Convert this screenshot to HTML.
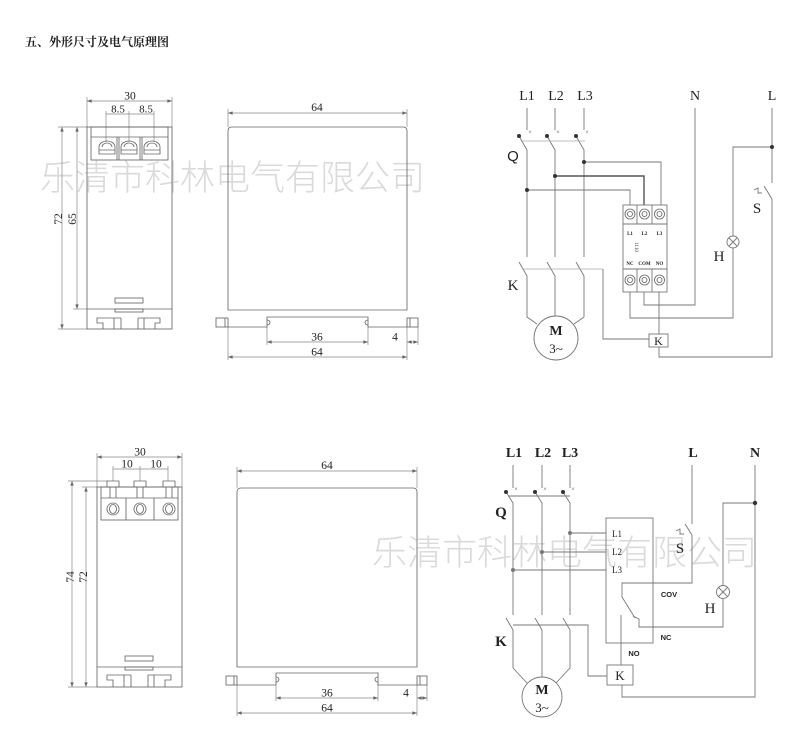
<!DOCTYPE html>
<html><head><meta charset="utf-8">
<style>
html,body{margin:0;padding:0;background:#fff;}
svg{display:block;}
.b{fill:none;stroke:#666;stroke-width:0.85;}
.d{fill:none;stroke:#888;stroke-width:0.7;}
.w{fill:none;stroke:#777;stroke-width:0.9;}
.t{font-family:"Liberation Serif","Noto Serif CJK SC",serif;fill:#222;}
.s{font-family:"Liberation Sans",sans-serif;fill:#222;}
</style></head><body>
<svg width="800" height="750" viewBox="0 0 800 750" xmlns="http://www.w3.org/2000/svg">
<defs>
<marker id="a" viewBox="0 0 8 6" refX="8" refY="3" markerWidth="7" markerHeight="5" orient="auto-start-reverse"><path d="M0,0 L8,3 L0,6 z" fill="#666"/></marker>
</defs>
<rect width="800" height="750" fill="#fff"/>

<!-- watermarks -->
<text x="40" y="190" font-size="35" fill="#dadada" font-family="'Noto Sans CJK SC',sans-serif" font-weight="300">乐清市科林电气有限公司</text>
<text x="372" y="565" font-size="35" fill="#dadada" font-family="'Noto Sans CJK SC',sans-serif" font-weight="300">乐清市科林电气有限公司</text>

<!-- title -->
<text x="25" y="46" class="t" font-size="12" font-weight="bold">五、外形尺寸及电气原理图</text>

<!-- ============ TOP LEFT VIEW ============ -->
<g class="d">
<line x1="87" y1="101" x2="172" y2="101" marker-start="url(#a)" marker-end="url(#a)"/>
<line x1="87" y1="97" x2="87" y2="127"/><line x1="172" y1="97" x2="172" y2="127"/>
<line x1="106" y1="114" x2="154" y2="114"/>
<line x1="106" y1="111" x2="106" y2="142"/><line x1="129" y1="111" x2="129" y2="142"/><line x1="154" y1="111" x2="154" y2="142"/>
<line x1="62" y1="127" x2="62" y2="329" marker-start="url(#a)" marker-end="url(#a)"/>
<line x1="77" y1="127" x2="77" y2="309" marker-start="url(#a)" marker-end="url(#a)"/>
<line x1="58" y1="127" x2="87" y2="127"/><line x1="58" y1="329" x2="87" y2="329"/><line x1="73" y1="309" x2="87" y2="309"/>
</g>
<text x="130" y="99.5" class="t" font-size="11.5" text-anchor="middle">30</text>
<text x="118" y="112.5" class="t" font-size="11" text-anchor="middle">8.5</text>
<text x="146" y="112.5" class="t" font-size="11" text-anchor="middle">8.5</text>
<text transform="translate(62,219) rotate(-90)" class="t" font-size="11.5" text-anchor="middle">72</text>
<text transform="translate(76,219) rotate(-90)" class="t" font-size="11.5" text-anchor="middle">65</text>
<g class="b">
<rect x="87" y="127" width="85" height="202"/>
<rect x="91" y="127" width="77" height="33"/>
<line x1="91" y1="137" x2="168" y2="137"/>
</g>
<g class="b" stroke-width="0.6" stroke="#777">
<line x1="117" y1="137" x2="117" y2="160"/><line x1="119" y1="137" x2="119" y2="160"/>
<line x1="140" y1="137" x2="140" y2="160"/><line x1="142" y1="137" x2="142" y2="160"/>
<path d="M99,154 V147 A8,6 0 0 1 115,147 V154 Z M99,150 H115 M102,147 A5,4 0 0 1 112,147"/>
<path d="M121,154 V147 A8,6 0 0 1 137,147 V154 Z M121,150 H137 M124,147 A5,4 0 0 1 134,147"/>
<path d="M144,154 V147 A8,6 0 0 1 160,147 V154 Z M144,150 H160 M147,147 A5,4 0 0 1 157,147"/>
</g>
<g class="b">
<line x1="87" y1="309" x2="172" y2="309"/>
<rect x="115" y="298" width="28" height="5"/>
<rect x="115" y="309" width="28" height="3"/>
<path d="M121,318 H97 V323 H103 V329 M114,318 V329 M121,318 V329 M138,318 V329 M144,318 V329 M138,318 H160 V323 H155 V329"/>
</g>

<!-- ============ TOP MIDDLE VIEW ============ -->
<g class="d">
<line x1="228" y1="113" x2="407" y2="113" marker-start="url(#a)" marker-end="url(#a)"/>
<line x1="228" y1="109" x2="228" y2="127"/><line x1="407" y1="109" x2="407" y2="127"/>
<line x1="267" y1="342" x2="368" y2="342" marker-start="url(#a)" marker-end="url(#a)"/>
<line x1="267" y1="327" x2="267" y2="345"/><line x1="368" y1="327" x2="368" y2="345"/>
<line x1="407" y1="342" x2="418" y2="342" marker-start="url(#a)" marker-end="url(#a)"/>
<line x1="418" y1="327" x2="418" y2="345"/>
<line x1="228" y1="357" x2="407" y2="357" marker-start="url(#a)" marker-end="url(#a)"/>
<line x1="228" y1="327" x2="228" y2="360"/><line x1="407" y1="327" x2="407" y2="360"/>
</g>
<text x="317" y="111" class="t" font-size="11.5" text-anchor="middle">64</text>
<text x="317" y="340.5" class="t" font-size="11.5" text-anchor="middle">36</text>
<text x="395" y="340.5" class="t" font-size="11.5" text-anchor="middle">4</text>
<text x="317" y="355.5" class="t" font-size="11.5" text-anchor="middle">64</text>
<g class="b">
<path d="M228,310 V131 Q228,127 232,127 H403 Q407,127 407,131 V310 Z"/>
<rect x="216" y="318" width="12" height="9"/><line x1="225" y1="318" x2="225" y2="327"/>
<rect x="407" y="318" width="11" height="9"/><line x1="410" y1="318" x2="410" y2="327"/>
<path d="M228,327 H267 V317 H368 V327 H407"/>
<path d="M267,320 A3,2.5 0 0 1 267,325 M368,320 A3,2.5 0 0 0 368,325"/>
</g>

<!-- ============ TOP RIGHT SCHEMATIC ============ -->
<g class="t" font-size="14" text-anchor="middle">
<text x="527" y="100">L1</text><text x="556" y="100">L2</text><text x="585" y="100">L3</text>
<text x="695" y="100">N</text><text x="772" y="100">L</text>
</g>
<g class="w">
<path d="M527,108 V130 M519,136 L527,150 V257 M519,262 L527,276 V317 L537,324"/>
<path d="M555,108 V130 M547,136 L555,150 V257 M547,262 L555,276 V316"/>
<path d="M584,108 V130 M576,136 L584,150 V257 M576,262 L584,276 V317 L574,324"/>
<circle cx="556" cy="338" r="22"/>
<path d="M584,162 H661 V205"/>
<path d="M555,176 H644 V205" stroke-width="1.4" stroke="#555"/>
<path d="M527,190 H630 V205"/>
<rect x="623" y="205" width="44" height="87"/>
<path d="M637,205 V224 M652,205 V224 M623,224 H667 M637,269 V292 M652,269 V292 M623,269 H667"/>
<path d="M630,292 V318 H733 V248"/>
<path d="M644,292 V305 H695 V108"/>
<path d="M659,292 V334 M659,347 V357 H772 V199"/>
<path d="M772,108 V183 M772,199 L764,186"/>
<path d="M772,147 H733 V236"/>
<path d="M754,190 L758,188 V193 H762"/>
<circle cx="733" cy="242" r="6"/>
<path d="M729,238 L737,246 M737,238 L729,246"/>
<rect x="649" y="334" width="19" height="13"/>
<path d="M603,269 V339 H649"/>
</g>
<g stroke="#aaa" stroke-width="0.7" fill="none">
<line x1="522" y1="141" x2="585" y2="141"/>
<line x1="522" y1="269" x2="603" y2="269"/>
</g>
<g fill="#333">
<circle cx="519" cy="136" r="2"/><circle cx="547" cy="136" r="2"/><circle cx="576" cy="136" r="2"/>
<circle cx="584" cy="162" r="2"/><circle cx="555" cy="176" r="2"/><circle cx="527" cy="190" r="2"/>
<circle cx="772" cy="147" r="2"/>
</g>
<g font-size="6" fill="#888" font-family="Liberation Sans,sans-serif" text-anchor="middle">
<text x="530" y="134">×</text><text x="558" y="134">×</text><text x="587" y="134">×</text>
</g>
<g class="b" stroke-width="0.7">
<circle cx="630" cy="214" r="5"/><circle cx="644.5" cy="214" r="5"/><circle cx="659.5" cy="214" r="5"/>
<circle cx="630" cy="280" r="5"/><circle cx="644.5" cy="280" r="5"/><circle cx="659.5" cy="280" r="5"/>
<circle cx="630" cy="214" r="2.5"/><circle cx="644.5" cy="214" r="2.5"/><circle cx="659.5" cy="214" r="2.5"/>
<circle cx="630" cy="280" r="2.5"/><circle cx="644.5" cy="280" r="2.5"/><circle cx="659.5" cy="280" r="2.5"/>
</g>
<g class="t" font-size="5" font-weight="bold" text-anchor="middle">
<text x="630" y="235">L1</text><text x="644.5" y="235">L2</text><text x="659.5" y="235">L3</text>
<text x="630" y="265">NC</text><text x="644.5" y="265">COM</text><text x="659.5" y="265">NO</text>
<text transform="translate(635,247) rotate(90)" font-weight="normal">1110</text>
</g>
<g class="t" font-size="15" text-anchor="middle">
<text x="513" y="161" class="s">Q</text>
<text x="513" y="290">K</text>
<text x="757" y="213">S</text>
<text x="719" y="261">H</text>
<text x="556" y="335" font-size="14" font-weight="bold">M</text>
<text x="556" y="353" font-size="13">3~</text>
<text x="658.5" y="345" font-size="12">K</text>
</g>

<!-- ============ BOTTOM LEFT VIEW ============ -->
<g class="d">
<line x1="97" y1="457" x2="182" y2="457" marker-start="url(#a)" marker-end="url(#a)"/>
<line x1="97" y1="453" x2="97" y2="487"/><line x1="182" y1="453" x2="182" y2="487"/>
<line x1="113" y1="469" x2="168" y2="469"/>
<line x1="113" y1="466" x2="113" y2="481"/><line x1="140" y1="466" x2="140" y2="481"/><line x1="168" y1="466" x2="168" y2="481"/>
<line x1="72" y1="481" x2="72" y2="687" marker-start="url(#a)" marker-end="url(#a)"/>
<line x1="86" y1="487" x2="86" y2="687" marker-start="url(#a)" marker-end="url(#a)"/>
<line x1="68" y1="481" x2="108" y2="481"/><line x1="82" y1="487" x2="97" y2="487"/><line x1="68" y1="687" x2="97" y2="687"/>
</g>
<text x="140" y="455.5" class="t" font-size="11.5" text-anchor="middle">30</text>
<text x="127" y="467.5" class="t" font-size="11.5" text-anchor="middle">10</text>
<text x="156" y="467.5" class="t" font-size="11.5" text-anchor="middle">10</text>
<text transform="translate(74,577) rotate(-90)" class="t" font-size="11.5" text-anchor="middle">74</text>
<text transform="translate(87,577) rotate(-90)" class="t" font-size="11.5" text-anchor="middle">72</text>
<g class="b">
<rect x="97" y="487" width="85" height="200"/>
<rect x="101" y="487" width="77" height="33"/>
<line x1="101" y1="498" x2="178" y2="498"/>
<path d="M107,487 V481 H119 V487 M110,487 V498 M116,487 V498"/>
<path d="M134,487 V481 H146 V487 M137,487 V498 M143,487 V498"/>
<path d="M163,487 V481 H175 V487 M166,487 V498 M172,487 V498"/>
<line x1="126" y1="498" x2="126" y2="520"/><line x1="154" y1="498" x2="154" y2="520"/>
<circle cx="113" cy="509" r="6"/><ellipse cx="113" cy="509" rx="3.5" ry="4.5"/>
<circle cx="140" cy="509" r="6"/><ellipse cx="140" cy="509" rx="3.5" ry="4.5"/>
<circle cx="169" cy="509" r="6"/><ellipse cx="169" cy="509" rx="3.5" ry="4.5"/>
<line x1="97" y1="667" x2="182" y2="667"/>
<rect x="125" y="656" width="28" height="5"/>
<rect x="125" y="667" width="28" height="3"/>
<path d="M131,675 H107 V680 H113 V687 M124,675 V687 M131,675 V687 M148,675 V687 M154,675 V687 M148,675 H171 V680 H165 V687"/>
</g>

<!-- ============ BOTTOM MIDDLE VIEW ============ -->
<g class="d">
<line x1="237" y1="471" x2="417" y2="471" marker-start="url(#a)" marker-end="url(#a)"/>
<line x1="237" y1="467" x2="237" y2="488"/><line x1="417" y1="467" x2="417" y2="488"/>
<line x1="276" y1="698" x2="378" y2="698" marker-start="url(#a)" marker-end="url(#a)"/>
<line x1="276" y1="685" x2="276" y2="701"/><line x1="378" y1="685" x2="378" y2="701"/>
<line x1="417" y1="698" x2="427" y2="698" marker-start="url(#a)" marker-end="url(#a)"/>
<line x1="427" y1="685" x2="427" y2="701"/>
<line x1="237" y1="713" x2="417" y2="713" marker-start="url(#a)" marker-end="url(#a)"/>
<line x1="237" y1="685" x2="237" y2="716"/><line x1="417" y1="685" x2="417" y2="716"/>
</g>
<text x="327" y="469" class="t" font-size="11.5" text-anchor="middle">64</text>
<text x="327" y="696.5" class="t" font-size="11.5" text-anchor="middle">36</text>
<text x="406" y="696.5" class="t" font-size="11.5" text-anchor="middle">4</text>
<text x="327" y="711.5" class="t" font-size="11.5" text-anchor="middle">64</text>
<g class="b">
<path d="M237,667 V492 Q237,488 241,488 H413 Q417,488 417,492 V667 Z"/>
<rect x="226" y="676" width="11" height="9"/><line x1="234" y1="676" x2="234" y2="685"/>
<rect x="417" y="676" width="10" height="9"/><line x1="420" y1="676" x2="420" y2="685"/>
<path d="M237,685 H276 V673 H378 V685 H417"/>
<path d="M276,677 A3,2.5 0 0 1 276,682 M378,677 A3,2.5 0 0 0 378,682"/>
</g>

<!-- ============ BOTTOM RIGHT SCHEMATIC ============ -->
<g class="t" font-size="14" font-weight="bold" text-anchor="middle">
<text x="514" y="457">L1</text><text x="543" y="457">L2</text><text x="570" y="457">L3</text>
<text x="693" y="457">L</text><text x="755" y="457">N</text>
</g>
<g class="w">
<path d="M513,465 V488 M506,492 L513,503 V615 M506,618 L513,630 V668 L527,683"/>
<path d="M542,465 V488 M535,492 L542,503 V615 M535,618 L542,630 V677"/>
<path d="M570,465 V488 M563,492 L570,503 V615 M563,618 L570,630 V668 L556,683"/>
<circle cx="542" cy="697" r="20"/>
<path d="M509,496 H570"/>
<path d="M570,533 H606 M542,552 H606 M513,570 H606"/>
<rect x="606" y="518" width="47" height="125"/>
<path d="M692,465 V524 M692,535 L685,524 M692,535 V583 H622 V597 L635,618 M633,616 L639,619 V627 H723 V599"/>
<path d="M676,531 L680,529 V534 H684"/>
<path d="M621,615 V665 M622,685 V697 H755 V465 M755,503 H723 V586"/>
<circle cx="723" cy="592" r="6.5"/>
<path d="M718.5,587.5 L727.5,596.5 M727.5,587.5 L718.5,596.5"/>
<rect x="607" y="665" width="26" height="20"/>
<path d="M513,625 H588 V676 H607"/>
</g>
<g fill="#333">
<circle cx="506" cy="492" r="2"/><circle cx="535" cy="492" r="2"/><circle cx="563" cy="492" r="2"/>
<circle cx="755" cy="503" r="2.2"/>
</g>
<g fill="#777">
<circle cx="570" cy="533" r="2"/><circle cx="542" cy="552" r="2"/><circle cx="513" cy="570" r="2"/>
</g>
<g font-size="6" fill="#888" font-family="Liberation Sans,sans-serif" text-anchor="middle">
<text x="516" y="491">×</text><text x="545" y="491">×</text><text x="573" y="491">×</text>
</g>
<g class="t" font-size="9" text-anchor="middle">
<text x="617" y="537">L1</text><text x="617" y="555">L2</text><text x="617" y="573">L3</text>
</g>
<g class="s" font-size="7.5" font-weight="bold" text-anchor="middle">
<text x="669" y="597">COV</text>
<text x="666" y="640">NC</text>
<text x="634" y="656">NO</text>
</g>
<g class="t" font-size="15" text-anchor="middle">
<text x="501" y="517" font-weight="bold">Q</text>
<text x="501" y="646" font-weight="bold">K</text>
<text x="680" y="553">S</text>
<text x="710" y="613">H</text>
<text x="542" y="694" font-size="14" font-weight="bold">M</text>
<text x="542" y="712" font-size="13">3~</text>
<text x="620" y="680" font-size="13">K</text>
</g>
</svg>
</body></html>
